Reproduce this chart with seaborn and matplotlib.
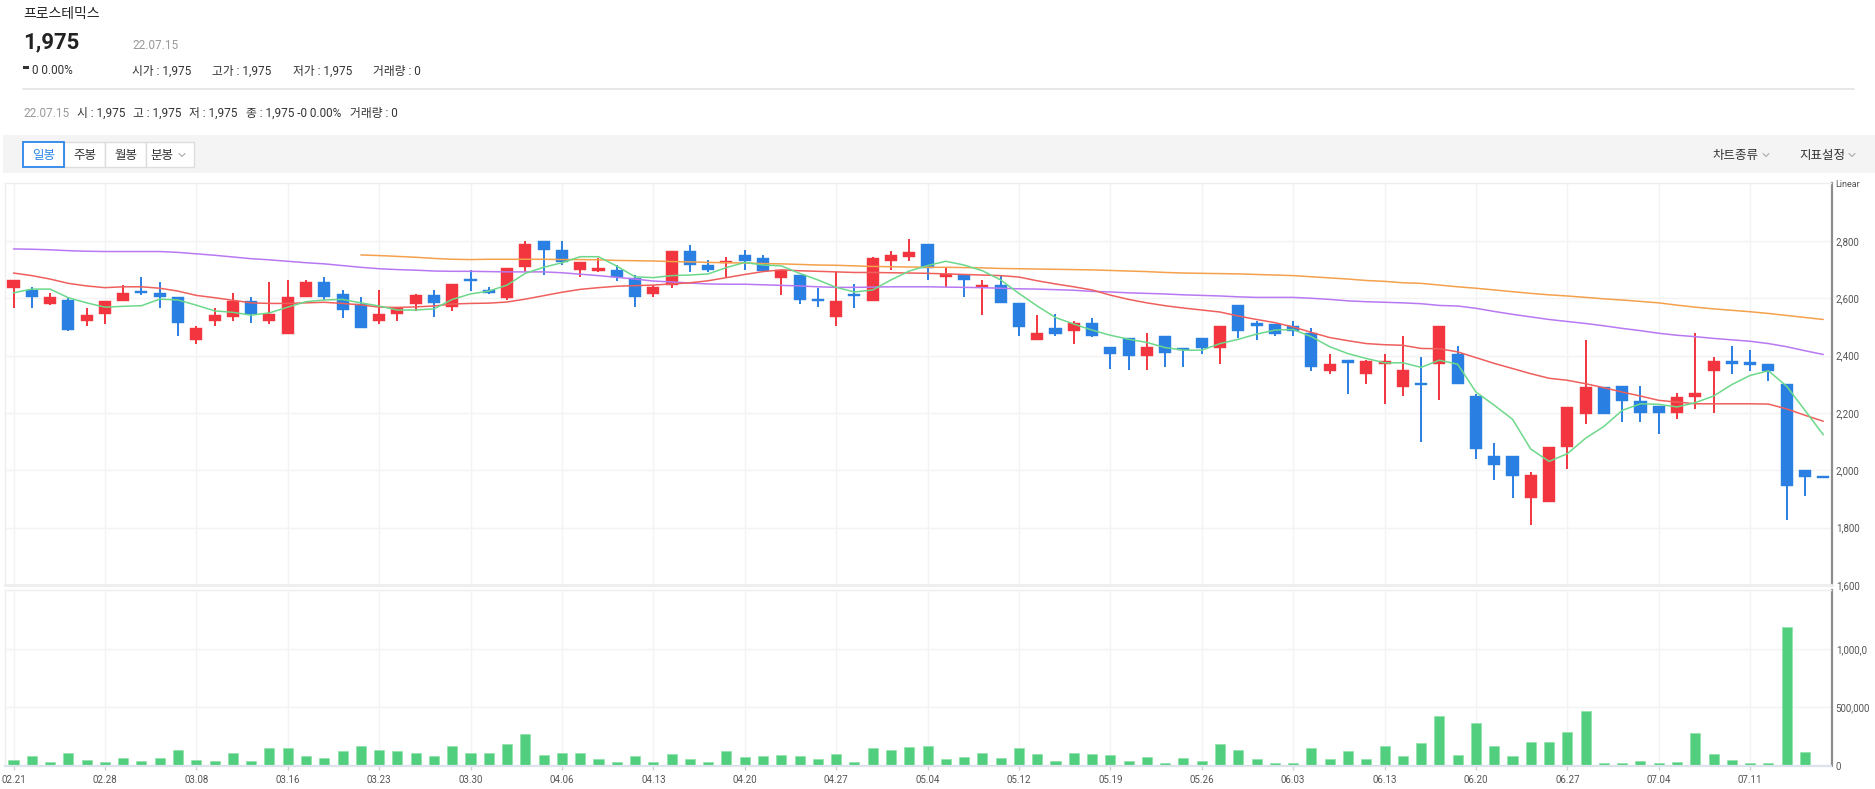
import numpy as np
import pandas as pd
import matplotlib
matplotlib.use("Agg")
import matplotlib.pyplot as plt
from matplotlib.patches import Rectangle
import seaborn as sns

# ---------------- data ----------------
stock_name = "프로스테믹스"
last_date = "22.07.15"
last_price = "1,975"

tick_dates = ["02.21", "02.28", "03.08", "03.16", "03.23", "03.30", "04.06",
              "04.13", "04.20", "04.27", "05.04", "05.12", "05.19", "05.26",
              "06.03", "06.13", "06.20", "06.27", "07.04", "07.11"]

opens = [2635, 2630, 2580, 2595, 2520, 2545, 2590, 2625, 2620, 2605,
         2455, 2520, 2535, 2590, 2520, 2475, 2605, 2655, 2615, 2580,
         2520, 2545, 2580, 2610, 2570, 2665, 2630, 2600, 2710, 2800,
         2770, 2700, 2695, 2700, 2670, 2615, 2645, 2765, 2715, 2725,
         2750, 2740, 2670, 2680, 2595, 2535, 2615, 2590, 2730, 2745,
         2790, 2675, 2680, 2640, 2645, 2585, 2455, 2495, 2485, 2515,
         2430, 2460, 2400, 2470, 2425, 2460, 2425, 2575, 2515, 2510,
         2505, 2480, 2345, 2385, 2335, 2370, 2290, 2305, 2370, 2405,
         2260, 2050, 2050, 1905, 1890, 2080, 2195, 2290, 2295, 2240,
         2225, 2200, 2255, 2345, 2380, 2375, 2370, 2300, 2000, 1975]
highs = [2665, 2640, 2620, 2605, 2565, 2590, 2645, 2675, 2655, 2605,
         2505, 2565, 2620, 2605, 2655, 2665, 2665, 2675, 2630, 2605,
         2630, 2565, 2615, 2630, 2650, 2700, 2640, 2705, 2800, 2800,
         2800, 2725, 2740, 2715, 2680, 2645, 2765, 2785, 2735, 2745,
         2770, 2750, 2700, 2680, 2635, 2690, 2650, 2745, 2765, 2805,
         2790, 2710, 2680, 2665, 2680, 2585, 2540, 2545, 2520, 2530,
         2430, 2460, 2480, 2470, 2425, 2460, 2505, 2575, 2520, 2510,
         2520, 2495, 2405, 2385, 2385, 2405, 2470, 2395, 2505, 2435,
         2265, 2095, 2050, 1995, 2080, 2220, 2455, 2290, 2295, 2295,
         2225, 2270, 2480, 2395, 2435, 2420, 2370, 2300, 2000, 1975]
lows = [2565, 2565, 2575, 2485, 2505, 2510, 2590, 2610, 2565, 2470,
        2440, 2505, 2520, 2515, 2510, 2475, 2605, 2595, 2530, 2495,
        2510, 2520, 2555, 2535, 2555, 2625, 2615, 2595, 2695, 2680,
        2715, 2675, 2690, 2660, 2570, 2605, 2635, 2690, 2690, 2675,
        2700, 2690, 2610, 2580, 2570, 2505, 2565, 2590, 2700, 2730,
        2665, 2640, 2605, 2540, 2585, 2470, 2455, 2470, 2440, 2465,
        2355, 2350, 2350, 2360, 2360, 2405, 2370, 2460, 2455, 2470,
        2470, 2345, 2335, 2265, 2300, 2230, 2260, 2100, 2245, 2300,
        2040, 1965, 1905, 1810, 1890, 2005, 2160, 2195, 2170, 2170,
        2125, 2180, 2215, 2200, 2335, 2345, 2310, 1825, 1910, 1975]
closes = [2665, 2605, 2605, 2490, 2540, 2590, 2620, 2620, 2605, 2515,
          2495, 2540, 2590, 2545, 2545, 2605, 2655, 2605, 2560, 2495,
          2545, 2565, 2610, 2585, 2650, 2660, 2620, 2705, 2790, 2770,
          2725, 2725, 2705, 2675, 2605, 2640, 2765, 2715, 2700, 2730,
          2730, 2695, 2700, 2595, 2590, 2590, 2610, 2740, 2750, 2760,
          2705, 2685, 2665, 2645, 2585, 2500, 2480, 2475, 2515, 2470,
          2405, 2400, 2430, 2410, 2420, 2425, 2505, 2485, 2505, 2475,
          2485, 2360, 2370, 2375, 2380, 2380, 2350, 2300, 2505, 2300,
          2075, 2020, 1980, 1985, 2080, 2220, 2290, 2195, 2240, 2200,
          2200, 2255, 2270, 2380, 2370, 2370, 2345, 1945, 1975, 1975]
volume = [51e3, 85e3, 34e3, 105e3, 51e3, 34e3, 68e3, 43e3, 68e3, 136e3,
          51e3, 43e3, 105e3, 43e3, 151e3, 151e3, 82e3, 68e3, 128e3, 168e3,
          136e3, 128e3, 111e3, 82e3, 168e3, 111e3, 105e3, 188e3, 273e3, 91e3,
          105e3, 105e3, 60e3, 34e3, 82e3, 34e3, 97e3, 57e3, 34e3, 128e3,
          74e3, 82e3, 88e3, 82e3, 57e3, 97e3, 34e3, 151e3, 136e3, 159e3,
          173e3, 57e3, 74e3, 111e3, 65e3, 151e3, 97e3, 43e3, 105e3, 97e3,
          91e3, 43e3, 74e3, 26e3, 65e3, 43e3, 188e3, 136e3, 57e3, 26e3,
          26e3, 151e3, 57e3, 128e3, 57e3, 168e3, 82e3, 196e3, 426e3, 88e3,
          364e3, 168e3, 82e3, 205e3, 205e3, 290e3, 466e3, 20e3, 20e3, 43e3,
          26e3, 34e3, 281e3, 102e3, 51e3, 26e3, 20e3, 1190e3, 119e3, 0]

ma5 = [2619, 2632, 2632, 2602, 2584, 2569, 2572, 2574, 2597, 2594,
       2576, 2556, 2551, 2541, 2549, 2569, 2588, 2594, 2596, 2584,
       2573, 2559, 2559, 2563, 2596, 2615, 2625, 2646, 2687, 2708,
       2724, 2745, 2745, 2712, 2675, 2672, 2679, 2681, 2685, 2707,
       2725, 2716, 2713, 2687, 2664, 2638, 2622, 2629, 2664, 2695,
       2714, 2729, 2716, 2696, 2664, 2617, 2573, 2533, 2510, 2489,
       2471, 2457, 2446, 2428, 2419, 2419, 2442, 2457, 2475, 2489,
       2491, 2466, 2431, 2407, 2390, 2375, 2375, 2359, 2384, 2370,
       2273, 2227, 2178, 2074, 2031, 2058, 2112, 2153, 2209, 2232,
       2230, 2221, 2236, 2259, 2299, 2331, 2347, 2293, 2209, 2124]
ma20 = [2688, 2679, 2667, 2652, 2643, 2637, 2640, 2640, 2635, 2625,
        2610, 2602, 2593, 2584, 2582, 2582, 2584, 2586, 2582, 2577,
        2569, 2568, 2570, 2573, 2580, 2582, 2583, 2587, 2597, 2609,
        2621, 2631, 2637, 2642, 2644, 2646, 2650, 2654, 2661, 2672,
        2683, 2693, 2699, 2696, 2694, 2692, 2690, 2690, 2689, 2688,
        2687, 2685, 2683, 2681, 2679, 2674, 2661, 2650, 2640, 2629,
        2611, 2596, 2584, 2574, 2566, 2559, 2552, 2538, 2526, 2515,
        2500, 2481, 2463, 2452, 2442, 2438, 2436, 2425, 2424, 2413,
        2393, 2373, 2355, 2337, 2321, 2314, 2302, 2288, 2273, 2259,
        2244, 2238, 2232, 2232, 2232, 2232, 2231, 2214, 2192, 2171]
ma60 = [2772, 2771, 2769, 2766, 2764, 2763, 2763, 2763, 2763, 2760,
        2755, 2750, 2744, 2738, 2734, 2729, 2724, 2720, 2714, 2708,
        2703, 2700, 2698, 2695, 2694, 2694, 2693, 2692, 2692, 2692,
        2689, 2684, 2679, 2673, 2667, 2660, 2657, 2653, 2650, 2649,
        2649, 2647, 2645, 2643, 2640, 2638, 2638, 2639, 2640, 2640,
        2640, 2639, 2638, 2637, 2635, 2633, 2632, 2630, 2628, 2624,
        2622, 2619, 2617, 2615, 2612, 2610, 2608, 2605, 2603, 2603,
        2603, 2600, 2596, 2591, 2588, 2586, 2584, 2581, 2575, 2573,
        2565, 2554, 2544, 2535, 2526, 2519, 2512, 2504, 2495, 2487,
        2478, 2471, 2466, 2460, 2455, 2450, 2442, 2431, 2417, 2404]
ma120 = [None] * 19 + [
        2751, 2749, 2746, 2743, 2739, 2736, 2735, 2736, 2736, 2736,
        2736, 2735, 2735, 2734, 2732, 2731, 2730, 2728, 2727, 2725,
        2724, 2723, 2721, 2720, 2718, 2716, 2715, 2713, 2711, 2710,
        2709, 2708, 2708, 2707, 2706, 2704, 2703, 2702, 2701, 2700,
        2699, 2697, 2695, 2693, 2690, 2688, 2687, 2686, 2685, 2683,
        2681, 2679, 2675, 2671, 2667, 2662, 2659, 2654, 2652, 2646,
        2640, 2635, 2629, 2623, 2617, 2612, 2608, 2603, 2598, 2594,
        2589, 2584, 2576, 2569, 2563, 2558, 2553, 2547, 2540, 2533,
        2526]

price_ticks = [1600, 1800, 2000, 2200, 2400, 2600, 2800]
volume_ticks = [0, 500000, 1000000]
volume_tick_labels = ["0", "500,000", "1,000,0"]

# ---------------- styling ----------------
sns.set_theme(style="white")
plt.rcParams['font.family'] = ['Roboto', 'Noto Sans CJK KR', 'DejaVu Sans']

UP = '#f2353f'
DOWN = '#2a7fe2'
VOLC = '#52cf7e'
C_MA5 = '#6cd98a'
C_MA20 = '#ef5f5c'
C_MA60 = '#b878f2'
C_MA120 = '#f5a04c'
GRID = '#f3f3f3'

W, H = 1875, 789
fig = plt.figure(figsize=(W / 100, H / 100), dpi=100)
fig.patch.set_facecolor('white')


def frac(x0, y0, x1, y1):
    return [x0 / W, 1 - y1 / H, (x1 - x0) / W, (y1 - y0) / H]


bg = fig.add_axes([0, 0, 1, 1], zorder=0)
bg.set_xlim(0, W)
bg.set_ylim(H, 0)
bg.axis('off')

ax = fig.add_axes(frac(5, 183, 1831.5, 585), zorder=1)
axv = fig.add_axes(frac(5, 590, 1831.5, 765.7), zorder=1)

n = len(closes)
idx = np.arange(n)
df = pd.DataFrame({'idx': idx, 'open': opens, 'high': highs, 'low': lows,
                   'close': closes, 'volume': volume,
                   'ma5': ma5, 'ma20': ma20, 'ma60': ma60,
                   'ma120': pd.array(ma120, dtype='Float64').astype(float)})

# ---------------- candles ----------------
o = df['open'].to_numpy(float)
c = df['close'].to_numpy(float)
up = c > o
colors = np.where(up, UP, DOWN)
ax.vlines(idx, df['low'], df['high'], colors=colors, lw=1.4, zorder=2)
diff = np.abs(c - o)
min_h = 7.0
body_h = np.maximum(diff, min_h)
body_bottom = np.minimum(o, c) - (body_h - diff) / 2
ax.bar(idx, body_h, bottom=body_bottom, width=0.66, color=colors,
       edgecolor=colors, linewidth=0.3, zorder=2)

# ---------------- moving averages ----------------
for col, colr in [('ma120', C_MA120), ('ma60', C_MA60), ('ma20', C_MA20), ('ma5', C_MA5)]:
    sns.lineplot(data=df.dropna(subset=[col]), x='idx', y=col, color=colr,
                 lw=1.1, ax=ax, zorder=3, legend=False)

# ---------------- volume ----------------
sns.barplot(data=df, x='idx', y='volume', native_scale=True, width=0.55,
            color=VOLC, saturation=1, errorbar=None, ax=axv,
            edgecolor='#8fe3aa', linewidth=0.5)

# ---------------- axes styling ----------------
xlim = (-0.465, 99.45)
label_pos = idx[::5][:len(tick_dates)]
for a in (ax, axv):
    a.set_xlim(*xlim)
    a.set_facecolor('white')
    a.set_xlabel('')
    a.set_ylabel('')
    a.set_xticks(label_pos)
    a.grid(True, color=GRID, lw=1.0, zorder=0)
    a.set_axisbelow(True)
    for s in ('left', 'top'):
        a.spines[s].set_color('#eeeeee')
        a.spines[s].set_linewidth(1.0)
    a.spines['right'].set_color('#8d8d8d')
    a.spines['right'].set_linewidth(1.6)
    a.yaxis.tick_right()
    a.tick_params(axis='y', length=0, pad=3, labelsize=7, labelcolor='#555555')

ax.set_ylim(1600, 3002)
ax.set_yticks(price_ticks)
ax.set_yticklabels([f"{v:,}" for v in price_ticks])
ax.tick_params(axis='x', length=0, labelbottom=False)
ax.spines['bottom'].set_color('#eeeeee')
ax.spines['bottom'].set_linewidth(2.0)

axv.set_ylim(0, 1.507e6)
axv.set_yticks(volume_ticks)
axv.set_yticklabels(volume_tick_labels)
axv.set_xticklabels(tick_dates)
axv.spines['bottom'].set_color('#dde3ec')
axv.spines['bottom'].set_linewidth(1.6)
axv.tick_params(axis='x', length=3, width=1, color='#c8d2df', pad=4,
                labelsize=7, labelcolor='#555555', bottom=True)

# "Linear" scale label
bg.text(1835, 184, "Linear", fontsize=6.5, color='#555555', va='center', ha='left')

# ---------------- header ----------------
DARK = '#222222'
GRAY = '#999999'
bg.text(23, 14, stock_name, fontsize=10, color=DARK, va='center', ha='left')
bg.text(23, 42, last_price, fontsize=16, fontweight='bold', color=DARK,
        va='center', ha='left')
bg.text(132, 45, last_date, fontsize=8.5, color=GRAY, va='center', ha='left')
bg.add_patch(Rectangle((23, 66), 5.5, 2.6, color='#333333', lw=0))
bg.text(32, 70, "0 0.00%", fontsize=8.5, color='#333333', va='center', ha='left')
for x0, s in [(132, "시가 : 1,975"), (212, "고가 : 1,975"),
              (293, "저가 : 1,975"), (373, "거래량 : 0")]:
    bg.text(x0, 71, s, fontsize=8.5, color='#333333', va='center', ha='left')
bg.plot([23, 1854], [89, 89], color='#e3e3e3', lw=1.2)
bg.text(23, 113, last_date, fontsize=8.5, color=GRAY, va='center', ha='left')
for x0, s in [(77, "시 : 1,975"), (133, "고 : 1,975"), (189, "저 : 1,975"),
              (246, "종 : 1,975 -0 0.00%"), (350, "거래량 : 0")]:
    bg.text(x0, 113, s, fontsize=8.5, color='#333333', va='center', ha='left')

# ---------------- toolbar ----------------
bg.add_patch(Rectangle((3, 135), W - 3, 38, facecolor='#f4f4f4', lw=0))
buttons = [(64, 105, "주봉"), (105, 146, "월봉"), (146, 194, "분봉")]
for x0, x1, s in buttons:
    bg.add_patch(Rectangle((x0, 142), x1 - x0, 25, facecolor='white',
                           edgecolor='#dddddd', lw=1))
    cx = (x0 + x1) / 2 if s != "분봉" else 162
    bg.text(cx, 155, s, fontsize=9, color='#333333', va='center', ha='center')
bg.add_patch(Rectangle((23, 142), 41, 25, facecolor='white',
                       edgecolor='#2d86ea', lw=1.3))
bg.text(43.5, 155, "일봉", fontsize=9, color='#2d86ea', va='center', ha='center')


def chevron(x, y):
    bg.plot([x, x + 3, x + 6], [y - 1.5, y + 1.5, y - 1.5], color='#aaaaaa', lw=0.8)


chevron(179, 155)
bg.text(1713, 155, "차트종류", fontsize=9, color='#333333', va='center', ha='left')
chevron(1763, 155)
bg.text(1799, 155, "지표설정", fontsize=9, color='#333333', va='center', ha='left')
chevron(1849, 155)

fig.savefig("out.png", dpi=100, facecolor='white')
